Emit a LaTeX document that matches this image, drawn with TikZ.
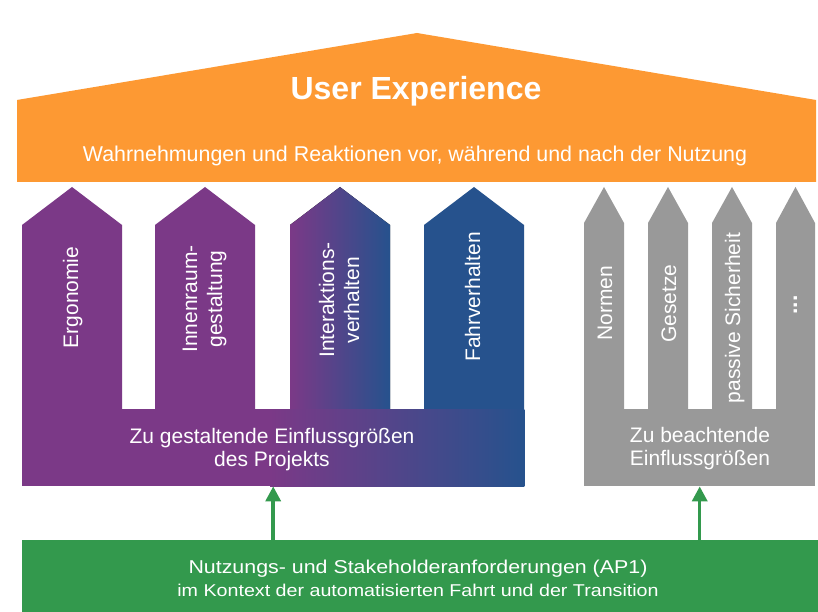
\documentclass[tikz,border=0pt]{standalone}
\usepackage{fontspec}
\setmainfont{Liberation Sans}
\newfontfamily\widesans[FakeStretch=1.15]{Liberation Sans}
\usetikzlibrary{arrows.meta}

\definecolor{uxorange}{RGB}{253,153,51}
\definecolor{uxpurple}{RGB}{123,57,135}
\definecolor{uxblue}{RGB}{38,82,141}
\definecolor{uxgray}{RGB}{153,153,153}
\definecolor{reqgreen}{RGB}{51,153,77}

\begin{document}
\begin{tikzpicture}[x=1pt,y=-1pt,
  pillartext/.style={rotate=90, text=white, align=center, inner sep=0pt,
    font=\fontsize{21}{25}\selectfont},
  basetext/.style={text=white, align=center, inner sep=0pt,
    font=\fontsize{21}{23}\selectfont},
  basebox/.style={inner sep=0pt, minimum height=77pt, anchor=north west},
  feed/.style={draw=reqgreen, line width=3.5pt,
    -{Triangle[width=15pt,length=15pt]}}]

\useasboundingbox[fill=white] (0,0) rectangle (818,612);

% roof
\fill[uxorange] (17,182) -- (17,100) -- (417,33) -- (816,100) -- (816,182) -- cycle;
\node[anchor=base, text=white, inner sep=0pt,
      font=\bfseries\fontsize{32}{36}\selectfont] (ux) at (416,100) {User Experience};
\node[anchor=base, text=white, inner sep=0pt,
      font=\fontsize{21.4}{24}\selectfont] (uxsub) at (415,162)
      {Wahrnehmungen und Reaktionen vor, während und nach der Nutzung};

% project pillars
\fill[uxpurple] (22,410) -- (22,225) -- (72,187) -- (122,225) -- (122,410) -- cycle;
\fill[uxpurple] (155,410) -- (155,225) -- (205,187) -- (255,225) -- (255,410) -- cycle;
\fill[left color=uxpurple, right color=uxblue]
      (290,410) -- (290,225) -- (340,187) -- (390,225) -- (390,410) -- cycle;
\fill[uxblue] (424,410) -- (424,225) -- (474,187) -- (524,225) -- (524,410) -- cycle;

% project base: solid on the left, fading into blue on the right
\node[basebox, minimum width=502pt] (pbase) at (22,409) {};
\fill[uxpurple] (pbase.north west) rectangle (300,486);
\fill[left color=uxpurple, right color=uxblue] (270,409) rectangle (pbase.south east);

% constraint pillars and base
\foreach \xa/\xb in {584/624, 648/688, 712/752, 776/815}
  \fill[uxgray] (\xa,410) -- (\xa,223) -- ({(\xa+\xb)/2},187) -- (\xb,223) -- (\xb,410) -- cycle;
\node[basebox, minimum width=231pt, fill=uxgray] (gbase) at (584,409) {};

% pillar labels
\node[pillartext] (ergo) at (73,297.5) {\strut Ergonomie};
\node[pillartext] (innen) at (204.5,299) {\strut Innenraum-\\\strut gestaltung};
\node[pillartext] (inter) at (341.5,300) {\strut Interaktions-\\\strut verhalten};
\node[pillartext] (fahr) at (475,297) {\strut Fahrverhalten};
\node[pillartext] (normen) at (607,303) {\strut Normen};
\node[pillartext] (gesetze) at (671,303.5) {\strut Gesetze};
\node[pillartext] (passiv) at (735,318) {\strut passive Sicherheit};
\node[pillartext, font=\bfseries\fontsize{23}{25}\selectfont] (more) at (792,305) {\strut ...};

% base labels
\node[basetext] (ptext) at (272,450) {\strut Zu gestaltende Einflussgrößen\\\strut des Projekts};
\node[basetext] (gtext) at (700,449) {\strut Zu beachtende\\\strut Einflussgrößen};

% requirements bar
\node[inner sep=0pt, minimum width=796pt, minimum height=72pt, anchor=north west,
      fill=reqgreen] (req) at (22,540) {};
\node[text=white, align=center, inner sep=0pt,
      font=\widesans\fontsize{18.6}{23}\selectfont] (reqtext) at (418,580)
  {\strut Nutzungs- und Stakeholderanforderungen (AP1)\\
   {\fontsize{17.1}{23}\selectfont\strut im Kontext der automatisierten Fahrt und der Transition}};

% feeds from requirements into both groups
\draw[feed] (req.north -| pbase.south) -- (pbase.south);
\draw[feed] (req.north -| gbase.south) -- (gbase.south);

\end{tikzpicture}
\end{document}
